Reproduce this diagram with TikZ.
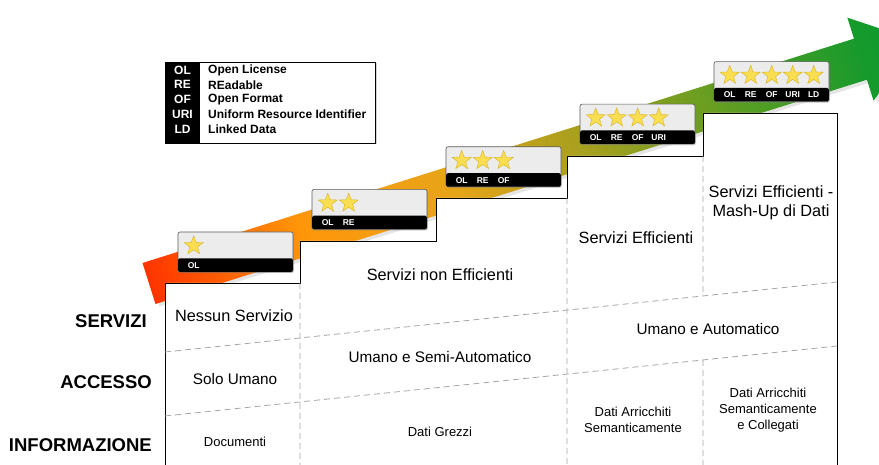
\documentclass[tikz,border=0pt]{standalone}
\usepackage{fontspec}
\setmainfont{Liberation Sans}
\usetikzlibrary{calc,positioning,shapes,shadows}

\definecolor{rampA}{RGB}{255,52,0}
\definecolor{rampB}{RGB}{255,100,0}
\definecolor{rampC}{RGB}{255,150,10}
\definecolor{rampD}{RGB}{232,164,24}
\definecolor{rampE}{RGB}{168,160,30}
\definecolor{rampF}{RGB}{108,158,32}
\definecolor{rampG}{RGB}{22,154,44}
\definecolor{rampH}{RGB}{10,154,48}
\definecolor{starfill}{RGB}{248,222,80}
\definecolor{staredge}{RGB}{214,180,40}
\definecolor{badgegray}{RGB}{236,236,236}

\pgfdeclarehorizontalshading{arrowramp}{100bp}{color(0bp)=(rampA); color(25bp)=(rampA);
  color(30bp)=(rampB); color(35bp)=(rampC); color(44.5bp)=(rampD); color(53bp)=(rampE);
  color(61bp)=(rampF); color(71.5bp)=(rampG); color(75bp)=(rampH); color(100bp)=(rampH)}

\begin{document}
\begin{tikzpicture}[x=1pt,y=1pt,
  stair/.style={draw=black, line width=0.8pt, fill=white},
  grid/.style={draw=black!35, line width=0.8pt, dash pattern=on 6pt off 4pt},
  rowlabel/.style={anchor=east, inner sep=0pt, font=\bfseries\fontsize{18.5}{20}\selectfont},
  servtext/.style={align=center, inner sep=0pt, font=\fontsize{16.3}{19}\selectfont},
  acctext/.style={align=center, inner sep=0pt, font=\fontsize{15.3}{18}\selectfont},
  infotext/.style={align=center, inner sep=0pt, font=\fontsize{13}{16}\selectfont},
  badge/.style={draw=black!65, fill=badgegray, rounded corners=2pt, minimum width=115pt,
    minimum height=40pt, inner sep=0pt, line width=0.6pt,
    drop shadow={opacity=0.3, shadow xshift=1pt, shadow yshift=-1.2pt}},
  starmark/.style={star, star points=5, star point ratio=2.4, minimum size=20pt,
    inner sep=0pt, fill=starfill, draw=staredge, line width=0.4pt},
  badgetext/.style={white, inner sep=0pt, font=\bfseries\fontsize{8.5}{8.5}\selectfont},
  legendbox/.style={draw=black, fill=white, line width=0.8pt, minimum width=210pt,
    minimum height=81pt, inner sep=0pt,
    drop shadow={opacity=0.35, shadow xshift=1.5pt, shadow yshift=-1.5pt}},
  legendtext/.style={inner sep=0pt, font=\bfseries\fontsize{12}{13}\selectfont}]

\useasboundingbox (0,0) rectangle (879,465);
\clip (0,0) rectangle (879,465);

% big arrow
\begin{scope}[transform canvas={shift={(149,181.5)},rotate=17.5}]
\fill[black,opacity=0.10] (3,-25) -- (749,-25) -- (749,-47) -- (809,-3)
	-- (749,40) -- (749,18) -- (3,18) -- cycle;
\shade[shading=arrowramp] (0,-21.5) -- (746,-21.5) -- (746,-43.5) -- (806,0)
	-- (746,43.5) -- (746,21.5) -- (0,21.5) -- cycle;
\end{scope}

% steps
\filldraw [stair] (165,0) -- (165,182) -- (300,182) -- (300,224) -- (436,224)
	-- (436,267) -- (567,267) -- (567,309) -- (703,309) -- (703,352)
	-- (837,352) -- (837,0);

\coordinate (L1a) at (165,113);
\coordinate (L1b) at (837,183);
\coordinate (L2a) at (165,49);
\coordinate (L2b) at (837,119);

\draw [grid] (L1a) -- (L1b)
	(L2a) -- (L2b)
	(300,182) -- (300,0)
	(567,267) -- (567,0)
	(703,309) -- ($(L1a)!0.8006!(L1b)$)
	($(L2a)!0.8006!(L2b)$) -- (703,0);

% row labels
\node [rowlabel] (servizi) at (147,144) {SERVIZI};
\node [rowlabel] (accesso) at (152,83) {ACCESSO};
\node [rowlabel] (informazione) at (152,20) {INFORMAZIONE};

% cells
\node [servtext] (s1) at (234,149) {Nessun Servizio};
\node [servtext] (s2) at (440,190) {Servizi non Efficienti};
\node [servtext] (s3) at (636,227) {Servizi Efficienti};
\node [servtext] (s4) at (771,262) {Servizi Efficienti -\\Mash-Up di Dati};

\node [acctext] (a1) at (235,86) {Solo Umano};
\node [acctext] (a2) at (440,108) {Umano e Semi-Automatico};
\node [acctext] (a3) at (708,136) {Umano e Automatico};

\node [infotext] (i1) at (235,23) {Documenti};
\node [infotext] (i2) at (440,33) {Dati Grezzi};
\node [infotext] (i3) at (633,45) {Dati Arricchiti\\Semanticamente};
\node [infotext] (i4) at (768,55) {Dati Arricchiti\\Semanticamente\\e Collegati};

% star badges
\foreach \n/\labs in {1/{OL}, 2/{OL,RE}, 3/{OL,RE,OF}, 4/{OL,RE,OF,URI}, 5/{OL,RE,OF,URI,LD}} {
	\pgfmathsetmacro{\bx}{235.5+134*(\n-1)}
	\pgfmathsetmacro{\by}{213+42.6*(\n-1)}
	\node [badge] (b\n) at (\bx,\by) {};
	\fill [black, rounded corners=1.5pt] ($(b\n.south west)+(0.5,0.5)$) rectangle ($(b\n.south east)+(-0.5,14)$);
	\foreach \lab [count=\k] in \labs {
		\node [starmark] at ($(b\n.north west)+({16+21*(\k-1)},-14)$) {};
		\node [badgetext] at ($(b\n.south west)+({16+21*(\k-1)},7)$) {\lab};
	}
}

% legend
\node [legendbox] (leg) at (270,362.5) {};
\fill [black] ($(leg.north west)+(0.4,-0.4)$) rectangle ($(leg.south west)+(35,0.4)$);
\foreach \ab/\txt [count=\r] in {OL/Open License, RE/REadable, OF/Open Format,
	URI/Uniform Resource Identifier, LD/Linked Data} {
	\node [legendtext, white] at (182.5,{395-14.8*(\r-1)}) {\ab};
	\node [legendtext, anchor=west] at (208,{395-14.8*(\r-1)}) {\txt};
}

\end{tikzpicture}
\end{document}
